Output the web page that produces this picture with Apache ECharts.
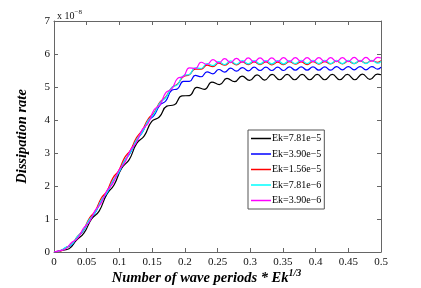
<!DOCTYPE html>
<html><head><meta charset="utf-8">
<script src="https://cdn.jsdelivr.net/npm/echarts@6/dist/echarts.min.js"></script>
<style>html,body{margin:0;padding:0;background:#fff}#c{width:421px;height:288px}</style>
</head><body><div id="c"></div>
<script>
const seriesNames = ["Ek=7.81e\u22125","Ek=3.90e\u22125","Ek=1.56e\u22125","Ek=7.81e\u22126","Ek=3.90e\u22126"];
const seriesColors = ["#000000","#0000ff","#ff0000","#00ffff","#ff00ff"];
const xTicks = [0,0.05,0.1,0.15,0.2,0.25,0.3,0.35,0.4,0.45,0.5];
const yTicks = [0,1,2,3,4,5,6,7];

const xBlack = [0,0.0115,0.023,0.0345,0.046,0.0575,0.069,0.0805,0.092,0.1035,0.115,0.1265,0.138,0.1495,0.161,0.1725,0.184,0.1955,0.207,0.2185,0.23,0.2415,0.253,0.2645,0.276,0.2875,0.299,0.3105,0.322,0.3335,0.345,0.3565,0.368,0.3795,0.391,0.4025,0.414,0.4255,0.437,0.4485,0.46,0.4715,0.483,0.4945,0.5];
const ek781e5 = [0,0.05,0.1,0.36,0.58,1.0,1.24,1.74,2.04,2.54,2.8,3.29,3.52,3.96,4.09,4.42,4.46,4.73,4.74,4.99,4.93,5.15,5.07,5.26,5.16,5.33,5.2,5.37,5.21,5.38,5.22,5.38,5.22,5.38,5.22,5.38,5.22,5.38,5.22,5.38,5.22,5.39,5.23,5.39,5.37];

const xOther = [0,0.009,0.018,0.027,0.036,0.045,0.054,0.063,0.072,0.081,0.09,0.099,0.108,0.117,0.126,0.135,0.144,0.153,0.162,0.171,0.18,0.189,0.198,0.207,0.216,0.225,0.234,0.243,0.252,0.261,0.27,0.279,0.288,0.297,0.306,0.315,0.324,0.333,0.342,0.351,0.36,0.369,0.378,0.387,0.396,0.405,0.414,0.423,0.432,0.441,0.45,0.459,0.468,0.477,0.486,0.495,0.5];
const ek390e5 = [0,0.03,0.13,0.22,0.46,0.65,0.97,1.19,1.54,1.79,2.14,2.4,2.76,3.02,3.38,3.62,3.97,4.14,4.45,4.58,4.9,4.95,5.17,5.17,5.35,5.31,5.46,5.4,5.53,5.45,5.57,5.48,5.59,5.49,5.6,5.5,5.6,5.5,5.6,5.5,5.61,5.51,5.61,5.51,5.61,5.51,5.61,5.51,5.62,5.52,5.62,5.52,5.62,5.52,5.62,5.54,5.6];
const ek156e5 = [0,0.02,0.13,0.24,0.47,0.67,1.02,1.24,1.62,1.85,2.24,2.47,2.86,3.09,3.46,3.69,4.03,4.22,4.54,4.7,4.98,5.09,5.32,5.37,5.54,5.54,5.66,5.62,5.72,5.66,5.75,5.67,5.76,5.68,5.76,5.68,5.76,5.67,5.75,5.68,5.77,5.69,5.76,5.68,5.77,5.69,5.77,5.7,5.78,5.7,5.78,5.71,5.79,5.72,5.8,5.75,5.8];
const ek781e6 = [0,0.03,0.14,0.23,0.47,0.66,0.98,1.2,1.55,1.8,2.15,2.41,2.77,3.03,3.39,3.63,3.98,4.19,4.52,4.68,4.98,5.07,5.35,5.38,5.58,5.56,5.71,5.65,5.77,5.68,5.79,5.69,5.8,5.7,5.8,5.7,5.8,5.7,5.8,5.7,5.8,5.71,5.81,5.71,5.81,5.71,5.81,5.71,5.81,5.71,5.81,5.71,5.81,5.71,5.81,5.72,5.78];
const ek390e6 = [0,0.04,0.1,0.29,0.41,0.72,0.91,1.26,1.48,1.86,2.08,2.47,2.7,3.09,3.32,3.71,3.9,4.31,4.46,4.83,4.94,5.26,5.32,5.58,5.56,5.75,5.68,5.83,5.73,5.86,5.74,5.87,5.75,5.88,5.76,5.88,5.76,5.88,5.77,5.89,5.77,5.89,5.77,5.89,5.77,5.89,5.77,5.89,5.77,5.89,5.77,5.9,5.78,5.9,5.78,5.9,5.88];

const seriesX = [xBlack, xOther, xOther, xOther, xOther];
const seriesY = [ek781e5, ek390e5, ek156e5, ek781e6, ek390e6];

const serif = "'Liberation Serif','DejaVu Serif',serif";
const chart = echarts.init(document.getElementById('c'), null, {renderer:'canvas'});
const axisLineStyle = {color:'#666', width:1};
const fmtX = v => String(+(+v).toFixed(2));

const series = seriesNames.map((n,i)=>({
  name:n, type:'line', smooth:0.5, symbol:'none', animation:false,
  lineStyle:{color:seriesColors[i], width:1.2},
  itemStyle:{color:seriesColors[i]},
  data: seriesX[i].map((x,j)=>[x, seriesY[i][j]])
}));

chart.setOption({
  animation:false,
  backgroundColor:'#fff',
  grid:{left:54, right:40, top:21, bottom:36, containLabel:false, outerBoundsMode:'none'},
  xAxis:[{
    type:'value', min:xTicks[0], max:xTicks[xTicks.length-1], interval:0.05, position:'bottom',
    axisLine:{show:true, lineStyle:axisLineStyle, onZero:false},
    axisTick:{show:true, inside:true, length:4, lineStyle:axisLineStyle},
    axisLabel:{color:'#111', fontFamily:serif, fontSize:11, margin:5, formatter:fmtX},
    splitLine:{show:false},
    name:'{a|Number of wave periods * Ek}{b|1/3}', nameLocation:'middle', nameGap:16, nameMoveOverlap:false,
    nameTextStyle:{padding:[0,22,0,0], rich:{
      a:{fontFamily:serif, fontWeight:'bold', fontStyle:'italic', fontSize:14.5, color:'#000'},
      b:{fontFamily:serif, fontWeight:'bold', fontStyle:'italic', fontSize:10, color:'#000', padding:[0,0,11,0]}
    }}
  },{
    type:'value', min:0, max:0.5, interval:0.05, position:'top',
    axisLine:{show:true, lineStyle:axisLineStyle, onZero:false},
    axisTick:{show:true, inside:true, length:4, lineStyle:axisLineStyle},
    axisLabel:{show:false}, splitLine:{show:false}
  }],
  yAxis:[{
    type:'value', min:yTicks[0], max:yTicks[yTicks.length-1], interval:1, position:'left',
    axisLine:{show:true, lineStyle:axisLineStyle, onZero:false},
    axisTick:{show:true, inside:true, length:4, lineStyle:axisLineStyle},
    axisLabel:{color:'#111', fontFamily:serif, fontSize:11, margin:4},
    splitLine:{show:false},
    name:'Dissipation rate', nameLocation:'middle', nameGap:24,
    nameTextStyle:{fontFamily:serif, fontWeight:'bold', fontStyle:'italic', fontSize:14.5, color:'#000'}
  },{
    type:'value', min:0, max:7, interval:1, position:'right',
    axisLine:{show:true, lineStyle:axisLineStyle, onZero:false},
    axisTick:{show:true, inside:true, length:4, lineStyle:axisLineStyle},
    axisLabel:{show:false}, splitLine:{show:false}
  }],
  legend:{
    orient:'vertical', left:248, top:130, data:seriesNames,
    icon:'rect', itemWidth:20, itemHeight:1.5, itemGap:4.5,
    padding:[3,3,3,3],
    backgroundColor:'#fff', borderColor:'#555', borderWidth:1, borderRadius:0,
    textStyle:{fontFamily:serif, fontSize:10, color:'#000', padding:[0,0,0,-4], lineHeight:11}
  },
  graphic:[{
    type:'text', left:57, top:9,
    style:{text:'{a|x 10}{b|\u22128}', rich:{
      a:{fontFamily:serif, fontSize:10, fill:'#111'},
      b:{fontFamily:serif, fontSize:7, fill:'#111', padding:[0,0,7,0]}
    }}
  }],
  series: series
});
</script></body></html>
